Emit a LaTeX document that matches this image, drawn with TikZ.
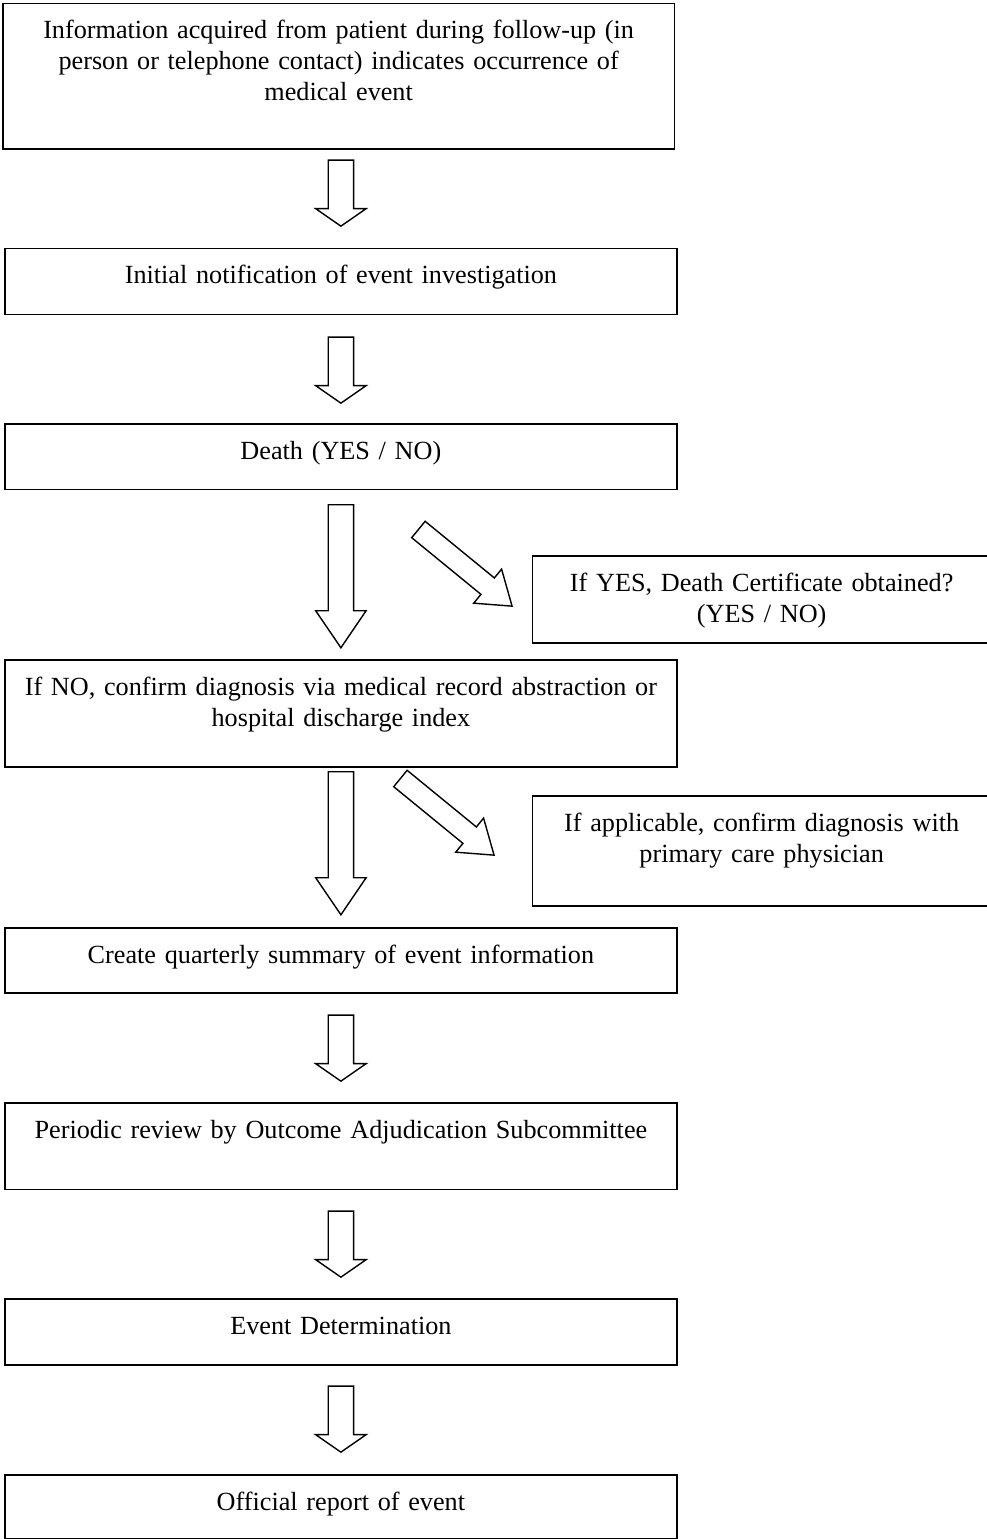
\documentclass[tikz,border=0pt]{standalone}
\usepackage{fontspec}
\setmainfont{Liberation Serif}
\usetikzlibrary{positioning,calc,shapes.arrows}

\begin{document}
\begin{tikzpicture}[x=1pt, y=-1pt,
    every node/.style={font=\fontsize{26.2}{31}\selectfont},
    flowbox/.style={draw, line width=1.8pt, rectangle, inner sep=0pt, anchor=north west,
      align=center, text width=660pt, minimum width=672pt, text height=35.5pt, text depth=#1},
    sidebox/.style={flowbox=#1, text width=440pt, minimum width=458.5pt},
    blockarrow/.style={draw, line width=1.4pt, fill=white, single arrow, inner xsep=0pt,
      inner ysep=12pt, single arrow head extend=12.5pt, anchor=tip},
    shortarrow/.style={blockarrow, minimum height=66pt, single arrow tip angle=110.5, rotate=-90},
    longarrow/.style={blockarrow, minimum height=143pt, single arrow tip angle=68.5, rotate=-90},
    sidearrow/.style={blockarrow, minimum height=121pt, inner ysep=9.9pt,
      single arrow head extend=11.4pt, single arrow tip angle=69.8, rotate=-39.3}]
      \useasboundingbox[fill=white] (0,0) rectangle (987,1539);
      % main column
      \node[flowbox=110pt, minimum width=671.5pt] (info) at (2,2.5)
        {Information acquired from patient during follow-up (in\\person or telephone contact) indicates occurrence of\\medical event};
      \node[flowbox=30.5pt] (notify) at (4,247.5) {Initial notification of event investigation};
      \node[flowbox=30pt] (death) at (4,423) {Death (YES / NO)};
      \node[flowbox=71.5pt] (confirm) at (4,659)
        {If NO, confirm diagnosis via medical record abstraction or\\hospital discharge index};
      \node[flowbox=29.5pt] (summary) at (4,927) {Create quarterly summary of event information};
      \node[flowbox=51pt] (review) at (4,1102) {Periodic review by Outcome Adjudication Subcommittee};
      \node[flowbox=30.5pt] (determ) at (4,1298) {Event Determination};
      \node[flowbox=28.5pt] (report) at (4,1474) {Official report of event};
      % side boxes (run off the right edge)
      \node[sidebox=51.5pt] (cert) at (531.5,555) {If YES, Death Certificate obtained?\\(YES / NO)};
      \node[sidebox=74.5pt] (physician) at (531.5,795) {If applicable, confirm diagnosis with\\primary care physician};
      % block arrows down the column
      \node[shortarrow] (a1) at ($(notify.north)+(0,-20.5)$) {};
      \node[shortarrow] (a2) at ($(death.north)+(0,-19)$) {};
      \node[longarrow] (a3) at ($(confirm.north)+(0,-10)$) {};
      \node[longarrow] (a4) at ($(summary.north)+(0,-11)$) {};
      \node[shortarrow] (a5) at ($(review.north)+(0,-20)$) {};
      \node[shortarrow] (a6) at ($(determ.north)+(0,-20)$) {};
      \node[shortarrow] (a7) at ($(report.north)+(0,-21)$) {};
      % slanted arrows to the side boxes
      \node[sidearrow] (d1) at ($(cert.west)+(-18.5,7.5)$) {};
      \node[sidearrow] (d2) at ($(physician.west)+(-36.5,5)$) {};
    \end{tikzpicture}
\end{document}
